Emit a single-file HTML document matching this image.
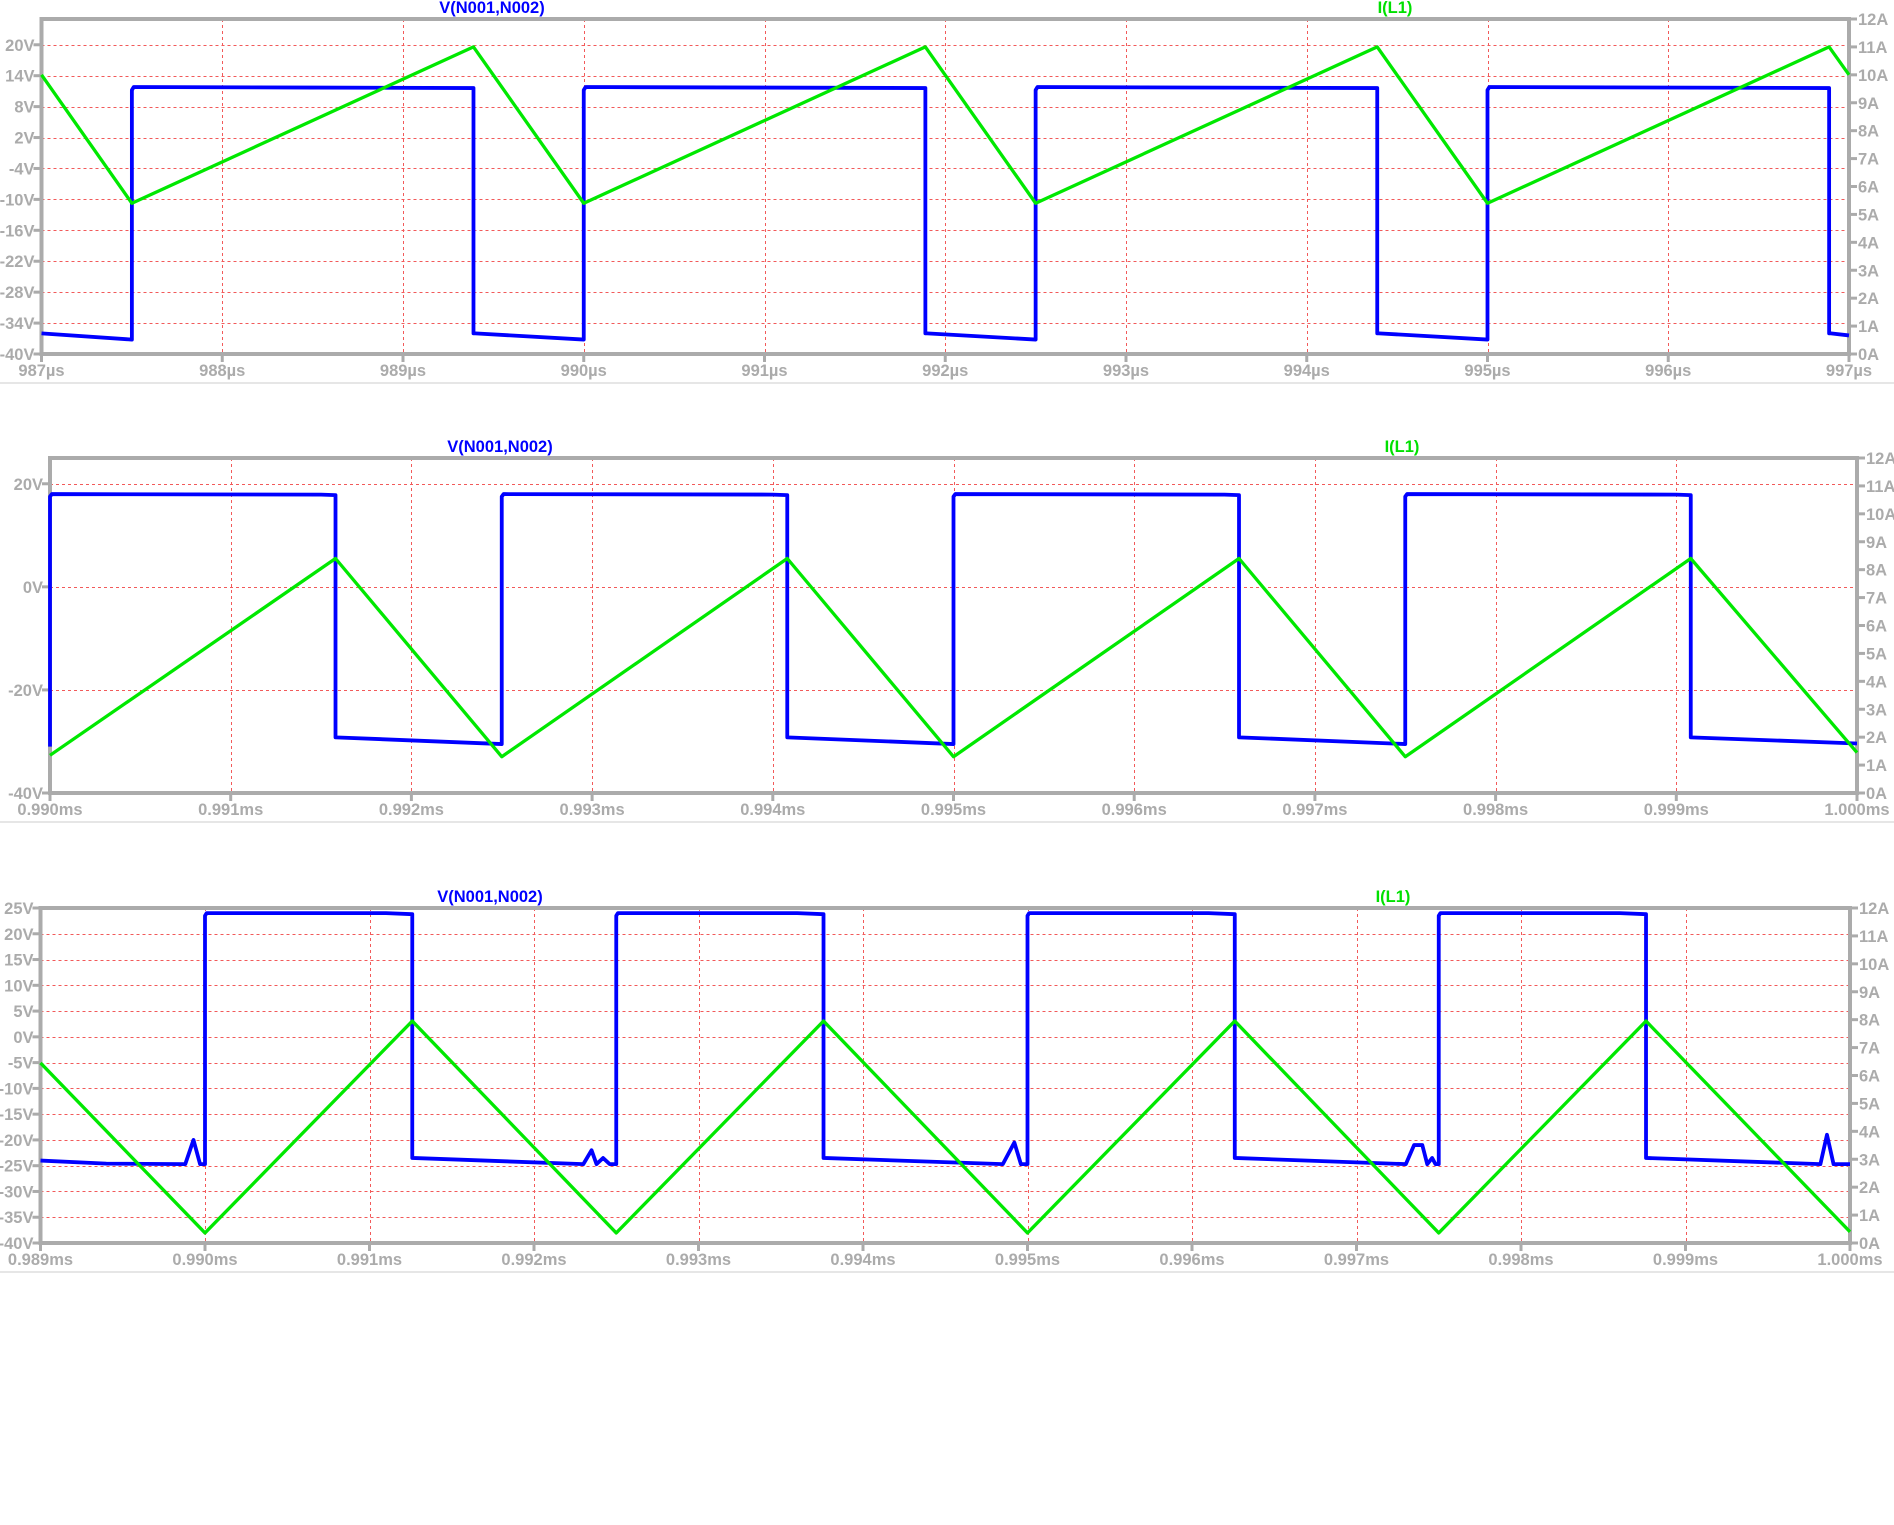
<!DOCTYPE html>
<html><head><meta charset="utf-8"><style>
html,body{margin:0;padding:0;background:#fff;}
svg{display:block;font-family:"Liberation Sans",Arial,sans-serif;font-weight:bold;}
</style></head><body>
<svg id="c" width="1894" height="1525" viewBox="0 0 1894 1525"></svg>
<script>
// ---------- Panel 1 data (µs) ----------
const p1XTicks = [987,988,989,990,991,992,993,994,995,996,997];
const p1XLabels = ["987µs","988µs","989µs","990µs","991µs","992µs","993µs","994µs","995µs","996µs","997µs"];
const p1VTicks = [-40,-34,-28,-22,-16,-10,-4,2,8,14,20];
const p1VT = [987,987.5,987.5,987.51,988.5,989.39,989.39,989.4,990.0,990.0,990.01,991.89,991.89,991.9,992.5,992.5,992.51,994.39,994.39,994.4,995.0,995.0,995.01,996.89,996.89,996.9,997];
const p1VV = [-36,-37.2,11.2,11.8,11.7,11.6,-36,-36,-37.2,11.2,11.8,11.6,-36,-36,-37.2,11.2,11.8,11.6,-36,-36,-37.2,11.2,11.8,11.6,-36,-36,-36.4];
const p1IT = [987,987.5,989.39,990.0,991.89,992.5,994.39,995.0,996.89,997];
const p1IA = [10,5.4,11,5.4,11,5.4,11,5.4,11,10];

// ---------- Panel 2 data (ms) ----------
const p2XTicks = [0.990,0.991,0.992,0.993,0.994,0.995,0.996,0.997,0.998,0.999,1.000];
const p2XLabels = ["0.990ms","0.991ms","0.992ms","0.993ms","0.994ms","0.995ms","0.996ms","0.997ms","0.998ms","0.999ms","1.000ms"];
const p2VTicks = [-40,-20,0,20];
const p2VT = [0.99,0.99,0.99001,0.9915,0.99158,0.99158,0.9925,0.9925,0.99251,0.994,0.99408,0.99408,0.995,0.995,0.99501,0.9965,0.99658,0.99658,0.9975,0.9975,0.99751,0.999,0.99908,0.99908,1.0];
const p2VV = [-31,17.5,18,17.9,17.8,-29.2,-30.5,17.5,18,17.9,17.8,-29.2,-30.5,17.5,18,17.9,17.8,-29.2,-30.5,17.5,18,17.9,17.8,-29.2,-30.4];
const p2IT = [0.99,0.99158,0.9925,0.99408,0.995,0.99658,0.9975,0.99908,1.0];
const p2IA = [1.35,8.4,1.3,8.4,1.3,8.4,1.3,8.4,1.45];

// ---------- Panel 3 data (ms) ----------
const p3XTicks = [0.989,0.990,0.991,0.992,0.993,0.994,0.995,0.996,0.997,0.998,0.999,1.000];
const p3XLabels = ["0.989ms","0.990ms","0.991ms","0.992ms","0.993ms","0.994ms","0.995ms","0.996ms","0.997ms","0.998ms","0.999ms","1.000ms"];
const p3VTicks = [-40,-35,-30,-25,-20,-15,-10,-5,0,5,10,15,20,25];
const p3VT = [0.989,0.9894,0.98988,0.98993,0.98997,0.99,0.99,0.99001,0.9911,0.99126,0.99126,0.9923,0.99235,0.99238,0.99242,0.99246,0.9925,0.9925,0.99251,0.9936,0.99376,0.99376,0.99485,0.99492,0.99496,0.995,0.995,0.99501,0.9961,0.99626,0.99626,0.9973,0.99735,0.9974,0.99743,0.99746,0.99748,0.9975,0.9975,0.99751,0.9986,0.99876,0.99876,0.99982,0.99986,0.9999,1.0];
const p3VV = [-24,-24.6,-24.7,-20,-24.7,-24.7,23.5,24,24,23.8,-23.5,-24.7,-22,-24.7,-23.5,-24.7,-24.7,23.5,24,24,23.8,-23.5,-24.7,-20.5,-24.7,-24.7,23.5,24,24,23.8,-23.5,-24.7,-21,-21,-24.7,-23.5,-24.7,-24.7,23.5,24,24,23.8,-23.5,-24.7,-19,-24.7,-24.7];
const p3IT = [0.989,0.99,0.99126,0.9925,0.99376,0.995,0.99626,0.9975,0.99876,1.0];
const p3IA = [6.45,0.36,7.95,0.36,7.95,0.36,7.95,0.36,7.95,0.4];

const ATicks = [0,1,2,3,4,5,6,7,8,9,10,11,12];

const svg = document.getElementById('c');
const NS = 'http://www.w3.org/2000/svg';
function mk(tag, attrs, parent){
  const e = document.createElementNS(NS, tag);
  for (const k in attrs) e.setAttribute(k, attrs[k]);
  (parent||svg).appendChild(e);
  return e;
}
const GRAY = '#ababab';
const FS = 16.5;

function panel(cfg){
  const g = mk('g', {});
  
  
  const L=cfg.L, R=cfg.R, T=cfg.T, B=cfg.B;
  const x0=cfg.xTicks[0], x1=cfg.xTicks[cfg.xTicks.length-1];
  const xs = t => L + (t-x0)/(x1-x0)*(R-L);
  const ys = v => B - (v-(-40))/65*(B-T);
  const ya = a => B - a/12*(B-T);
  const px = v => Math.round(v)+0.5;
  cfg.xTicks.forEach((t,i)=>{
    if(i>0 && i<cfg.xTicks.length-1){
      const l = mk('line',{x1:px(xs(t)),x2:px(xs(t)),y1:T,y2:B,stroke:'#f25a5a','stroke-width':1,'stroke-dasharray':'3,3','shape-rendering':'crispEdges'},g);
      
      
    }
  });
  cfg.vTicks.forEach(v=>{
    const y=ys(v);
    if(Math.abs(y-B)>1 && Math.abs(y-T)>1){
      const l = mk('line',{x1:L,x2:R,y1:px(y),y2:px(y),stroke:'#f25a5a','stroke-width':1,'stroke-dasharray':'3,3','shape-rendering':'crispEdges'},g);
      
      
    }
  });
  const f = mk('rect',{x:L,y:T,width:R-L,height:B-T,fill:'none',stroke:GRAY,'stroke-width':4},g);
  
  
  cfg.xTicks.forEach((t,i)=>{
    mk('line',{x1:xs(t),x2:xs(t),y1:B,y2:B+8,stroke:GRAY,'stroke-width':3},g);
    const tx = mk('text',{x:xs(t),y:B+22,'text-anchor':'middle','font-size':FS,fill:GRAY},g);
    tx.textContent = cfg.xLabels[i];
    
    
  });
  cfg.vTicks.forEach(v=>{
    const y=ys(v);
    mk('line',{x1:L-8,x2:L,y1:y,y2:y,stroke:GRAY,'stroke-width':3},g);
    const tx = mk('text',{x:L-7,y:y+6,'text-anchor':'end','font-size':FS,fill:GRAY},g);
    tx.textContent = v+'V';
    
    
  });
  ATicks.forEach(a=>{
    const y=ya(a);
    mk('line',{x1:R,x2:R+8,y1:y,y2:y,stroke:GRAY,'stroke-width':3},g);
    const tx = mk('text',{x:R+9,y:y+6,'text-anchor':'start','font-size':FS,fill:GRAY},g);
    tx.textContent = a+'A';
    
    
  });
  const t1 = mk('text',{x:cfg.vTitleX,y:T-6,'text-anchor':'middle','font-size':16.5,fill:'#0000ff'},g);
  t1.textContent='V(N001,N002)';
  
  
  const t2 = mk('text',{x:cfg.iTitleX,y:T-6,'text-anchor':'middle','font-size':16.5,fill:'#00e000'},g);
  t2.textContent='I(L1)';
  
  
  const s = mk('line',{x1:0,x2:1894,y1:B+29,y2:B+29,stroke:'#e6e6e6','stroke-width':2},g);
  
  
  const vp = cfg.vT.map((t,i)=>xs(t).toFixed(2)+','+ys(cfg.vV[i]).toFixed(2)).join(' ');
  const vl = mk('polyline',{points:vp,fill:'none',stroke:'#0000ff','stroke-width':3.8,'stroke-linejoin':'round'},g);
  
  
  const ip = cfg.iT.map((t,i)=>xs(t).toFixed(2)+','+ya(cfg.iA[i]).toFixed(2)).join(' ');
  const il = mk('polyline',{points:ip,fill:'none',stroke:'#00e800','stroke-width':3.3,'stroke-linejoin':'round'},g);
  
  
}

panel({name:'panel-1',L:41.5,R:1849,T:19,B:354,xTicks:p1XTicks,xLabels:p1XLabels,vTicks:p1VTicks,vT:p1VT,vV:p1VV,iT:p1IT,iA:p1IA,vTitleX:492,iTitleX:1395});
panel({name:'panel-2',L:50,R:1857,T:458,B:793,xTicks:p2XTicks,xLabels:p2XLabels,vTicks:p2VTicks,vT:p2VT,vV:p2VV,iT:p2IT,iA:p2IA,vTitleX:500,iTitleX:1402});
panel({name:'panel-3',L:40.5,R:1850,T:908,B:1243,xTicks:p3XTicks,xLabels:p3XLabels,vTicks:p3VTicks,vT:p3VT,vV:p3VV,iT:p3IT,iA:p3IA,vTitleX:490,iTitleX:1393});
</script>
</body></html>
